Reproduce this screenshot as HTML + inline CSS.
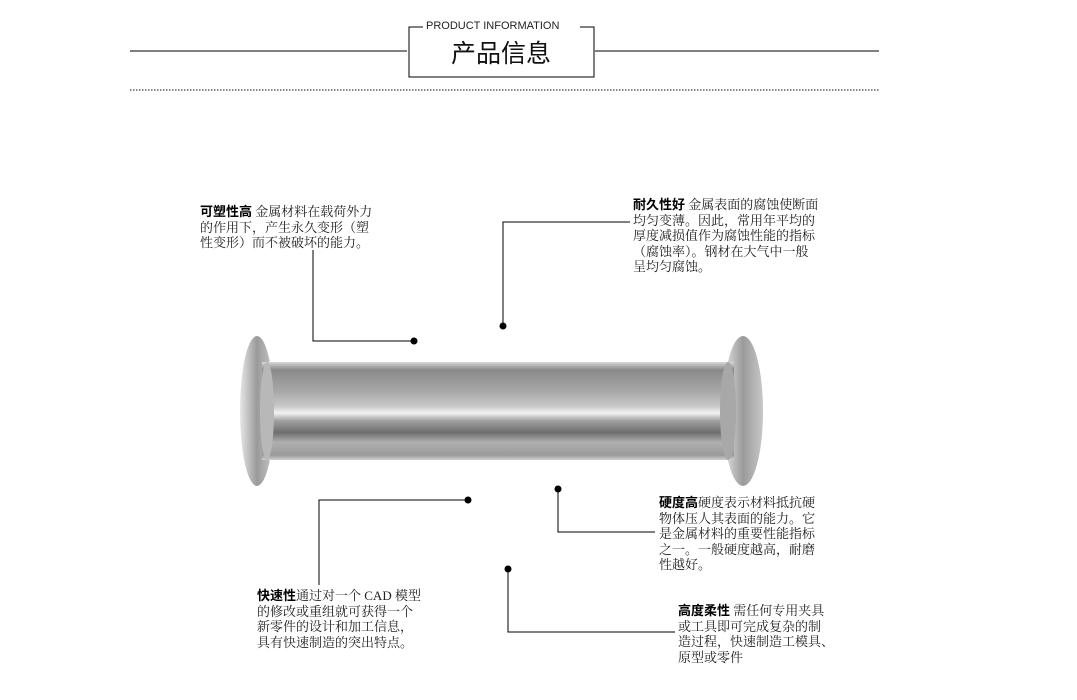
<!DOCTYPE html>
<html><head><meta charset="utf-8"><style>
html,body{margin:0;padding:0;background:#fff;}
body{width:1077px;height:700px;position:relative;overflow:hidden;font-family:"Liberation Serif","Noto Serif CJK SC","Noto Sans CJK SC",serif;color:#222;}
.t{position:absolute;font-size:13px;line-height:15.5px;white-space:nowrap;}
.t b{font-family:"Liberation Sans","Noto Sans CJK SC",sans-serif;font-weight:bold;color:#000;}
</style></head><body>
<svg width="1077" height="700" style="position:absolute;left:0;top:0">
<defs>
<linearGradient id="pg" x1="0" y1="0" x2="0" y2="1">
<stop offset="0" stop-color="#d8d8d8"/><stop offset="0.08" stop-color="#8a8a8a"/>
<stop offset="0.3" stop-color="#a8a8a8"/><stop offset="0.45" stop-color="#c8c8c8"/>
<stop offset="0.52" stop-color="#f2f2f2"/><stop offset="0.6" stop-color="#a0a0a0"/>
<stop offset="0.72" stop-color="#6e6e6e"/><stop offset="0.82" stop-color="#b0b0b0"/>
<stop offset="0.95" stop-color="#9a9a9a"/><stop offset="1" stop-color="#d0d0d0"/>
</linearGradient>
<linearGradient id="fg" x1="0" y1="0" x2="1" y2="0">
<stop offset="0" stop-color="#e6e6e6"/><stop offset="0.5" stop-color="#9a9a9a"/><stop offset="1" stop-color="#c8c8c8"/>
</linearGradient>
</defs>
<line x1="130" y1="51" x2="407" y2="51" stroke="#000" stroke-width="1"/>
<line x1="595" y1="51" x2="879" y2="51" stroke="#000" stroke-width="1"/>
<path d="M423 27 H409 V77 H594 V27 H580" fill="none" stroke="#000" stroke-width="1"/>
<line x1="130" y1="90" x2="879" y2="90" stroke="#888" stroke-width="2" stroke-dasharray="1.5 1.5"/>
<ellipse cx="257" cy="411" rx="17" ry="75" fill="url(#fg)"/>
<ellipse cx="743" cy="411" rx="20" ry="75" fill="url(#fg)"/>
<rect x="262" y="362" width="472" height="98" fill="url(#pg)"/>
<ellipse cx="267" cy="411" rx="7" ry="49" fill="#b8b8b8"/>
<ellipse cx="728" cy="411" rx="8" ry="49" fill="#a8a8a8"/>
<g stroke="#000" stroke-width="1" fill="none">
<path d="M313 250 V341 H414"/>
<path d="M630 222 H503 V326"/>
<path d="M468 500 H319 V585"/>
<path d="M558 489 V532 H655"/>
<path d="M508 569 V632 H675"/>
</g>
<g fill="#000">
<circle cx="414" cy="341" r="3.5"/><circle cx="503" cy="326" r="3.5"/>
<circle cx="468" cy="500" r="3.5"/><circle cx="558" cy="489" r="3.5"/>
<circle cx="508" cy="569" r="3.5"/>
</g>
</svg>
<div style="position:absolute;left:426px;top:20px;font-family:'Liberation Sans',sans-serif;font-size:11px;color:#222">PRODUCT INFORMATION</div>
<div style="position:absolute;left:440px;top:36px;width:122px;text-align:center;font-family:'Noto Sans CJK SC',sans-serif;font-size:25px;line-height:32px;color:#111;">产品信息</div>
<div class="t" style="left:200px;top:204px"><b>可塑性高</b> 金属材料在载荷外力<br>的作用下，产生永久变形（塑<br>性变形）而不被破坏的能力。</div>
<div class="t" style="left:633px;top:197px"><b>耐久性好</b> 金属表面的腐蚀使断面<br>均匀变薄。因此，常用年平均的<br>厚度减损值作为腐蚀性能的指标<br>（腐蚀率）。钢材在大气中一般<br>呈均匀腐蚀。</div>
<div class="t" style="left:659px;top:495px"><b>硬度高</b>硬度表示材料抵抗硬<br>物体压人其表面的能力。它<br>是金属材料的重要性能指标<br>之一。一般硬度越高，耐磨<br>性越好。</div>
<div class="t" style="left:257px;top:588px"><b>快速性</b>通过对一个 CAD 模型<br>的修改或重组就可获得一个<br>新零件的设计和加工信息，<br>具有快速制造的突出特点。</div>
<div class="t" style="left:678px;top:603px"><b>高度柔性</b> 需任何专用夹具<br>或工具即可完成复杂的制<br>造过程，快速制造工模具、<br>原型或零件</div>
</body></html>
